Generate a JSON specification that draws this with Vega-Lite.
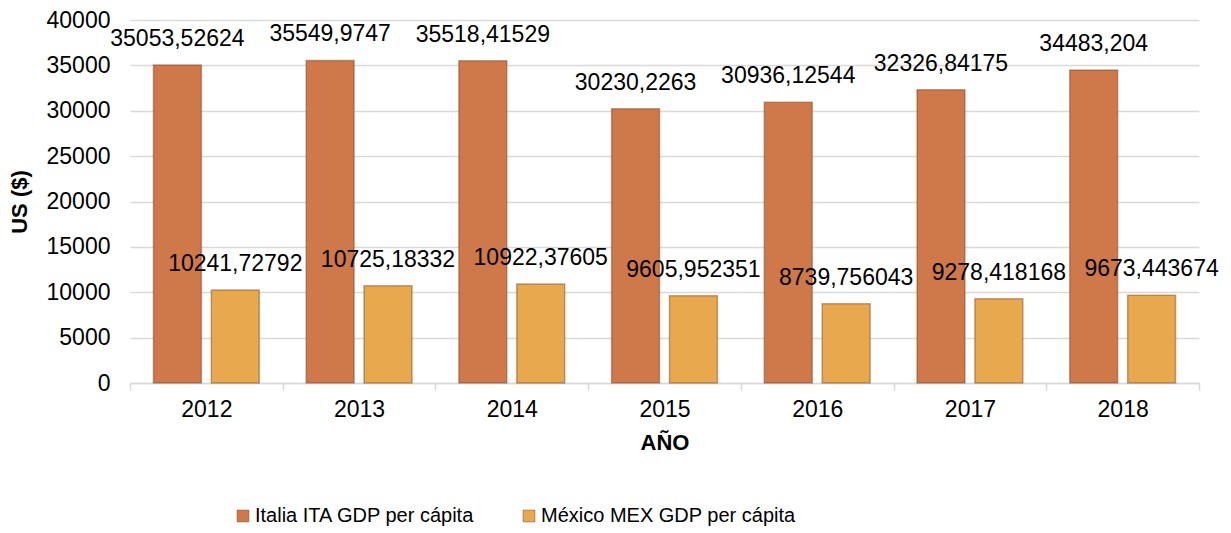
{
  "$schema": "https://vega.github.io/schema/vega-lite/v6.json",
  "width": 1069,
  "height": 363,
  "autosize": {"type": "none"},
  "padding": {"left": 130, "top": 20, "right": 32, "bottom": 150},
  "background": "white",
  "config": {
    "font": "Liberation Sans",
    "view": {"stroke": null}
  },
  "data": {
    "values": [
      {"year": "2012", "serie": "Italia ITA GDP per cápita", "value": 35053.52624, "label": "35053,52624"},
      {"year": "2012", "serie": "México MEX GDP per cápita", "value": 10241.72792, "label": "10241,72792"},
      {"year": "2013", "serie": "Italia ITA GDP per cápita", "value": 35549.9747, "label": "35549,9747"},
      {"year": "2013", "serie": "México MEX GDP per cápita", "value": 10725.18332, "label": "10725,18332"},
      {"year": "2014", "serie": "Italia ITA GDP per cápita", "value": 35518.41529, "label": "35518,41529"},
      {"year": "2014", "serie": "México MEX GDP per cápita", "value": 10922.37605, "label": "10922,37605"},
      {"year": "2015", "serie": "Italia ITA GDP per cápita", "value": 30230.2263, "label": "30230,2263"},
      {"year": "2015", "serie": "México MEX GDP per cápita", "value": 9605.952351, "label": "9605,952351"},
      {"year": "2016", "serie": "Italia ITA GDP per cápita", "value": 30936.12544, "label": "30936,12544"},
      {"year": "2016", "serie": "México MEX GDP per cápita", "value": 8739.756043, "label": "8739,756043"},
      {"year": "2017", "serie": "Italia ITA GDP per cápita", "value": 32326.84175, "label": "32326,84175"},
      {"year": "2017", "serie": "México MEX GDP per cápita", "value": 9278.418168, "label": "9278,418168"},
      {"year": "2018", "serie": "Italia ITA GDP per cápita", "value": 34483.204, "label": "34483,204"},
      {"year": "2018", "serie": "México MEX GDP per cápita", "value": 9673.443674, "label": "9673,443674"}
    ]
  },
  "encoding": {
    "x": {
      "field": "year", "type": "nominal",
      "scale": {"paddingInner": 0, "paddingOuter": 0},
      "axis": {
        "title": "AÑO", "titleFontSize": 22, "titleFontWeight": "bold", "titleColor": "#000000", "titlePadding": 11,
        "labelAngle": 0, "labelFontSize": 23, "labelColor": "#000000", "labelPadding": 8,
        "domainColor": "#D9D9D9", "domainWidth": 1.5, "tickColor": "#D9D9D9", "tickWidth": 1.5, "tickSize": 7,
        "tickBand": "extent", "grid": false
      }
    },
    "xOffset": {
      "field": "serie", "type": "nominal",
      "scale": {"paddingInner": 0.172, "paddingOuter": 0.405}
    },
    "y": {
      "field": "value", "type": "quantitative",
      "scale": {"domain": [0, 40000], "nice": false},
      "axis": {
        "title": "US  ($)", "titleFontSize": 22, "titleFontWeight": "bold", "titleColor": "#000000", "titlePadding": 15,
        "values": [0, 5000, 10000, 15000, 20000, 25000, 30000, 35000, 40000],
        "format": "d", "labelFontSize": 23, "labelColor": "#000000", "labelPadding": 20,
        "domain": false, "ticks": false, "gridColor": "#D9D9D9", "gridWidth": 1.5
      }
    }
  },
  "layer": [
    {
      "mark": {"type": "bar", "stroke": "#7A4020", "strokeOpacity": 0.45, "strokeWidth": 1.5},
      "encoding": {
        "color": {
          "field": "serie", "type": "nominal",
          "scale": {"range": ["#CF784A", "#E8A94E"]},
          "legend": {
            "title": null, "orient": "none", "legendX": 103, "legendY": 486,
            "direction": "horizontal", "symbolType": "square", "symbolSize": 140,
            "symbolStrokeColor": "#7A4020", "symbolStrokeWidth": 0.5,
            "labelFontSize": 20, "labelColor": "#000000", "labelOffset": 2, "columnPadding": 44,
            "labelLimit": 400
          }
        }
      }
    },
    {
      "mark": {"type": "text", "baseline": "bottom", "dy": -14, "fontSize": 23, "color": "#000000"},
      "encoding": {
        "text": {"field": "label"}
      }
    }
  ]
}
